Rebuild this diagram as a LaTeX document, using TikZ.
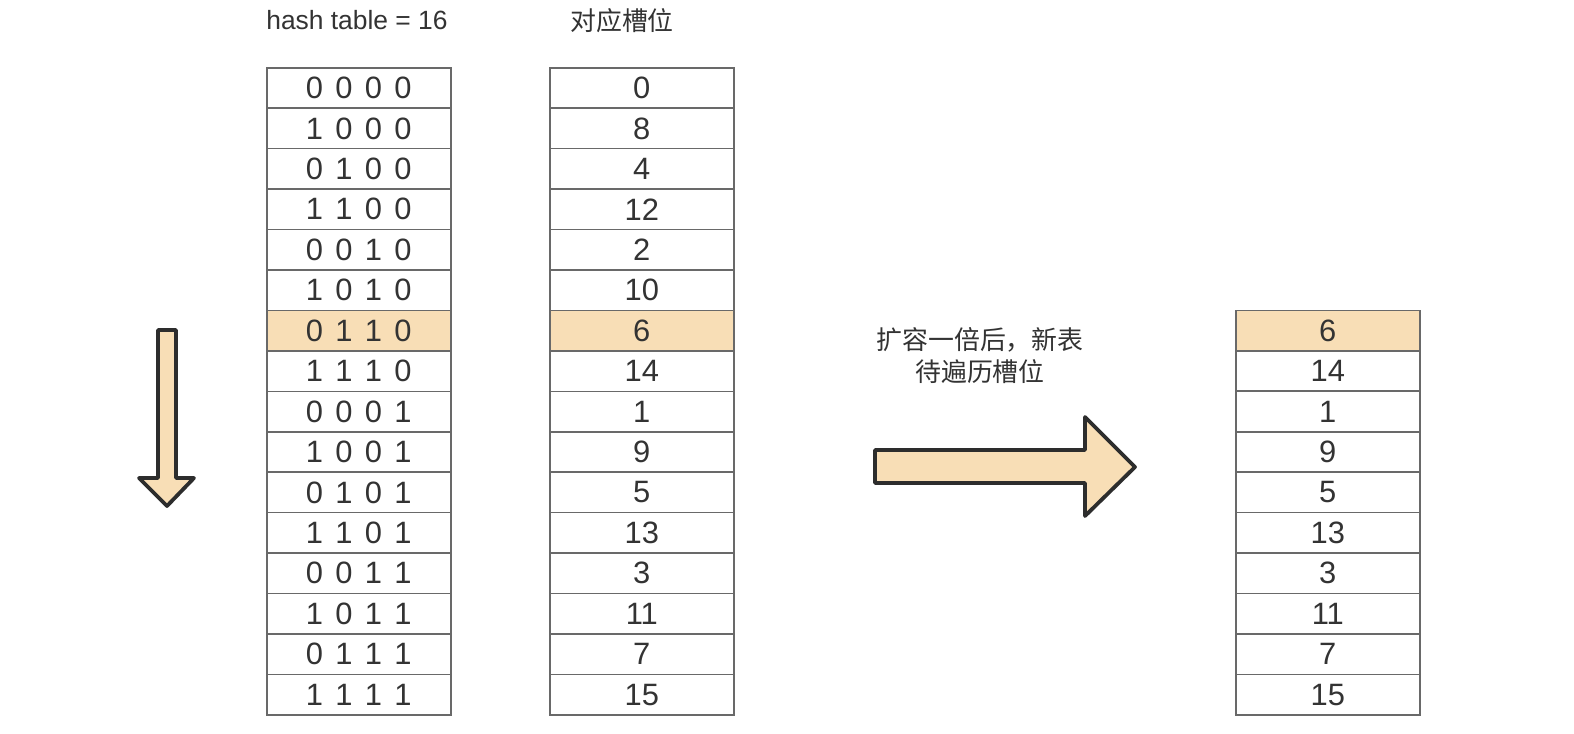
\documentclass[tikz,border=0pt]{standalone}
\usepackage{fontspec}
\setmainfont{Liberation Sans}
\newfontfamily\cjk{Noto Sans CJK SC}
\definecolor{hl}{RGB}{248,222,182}
\definecolor{gridc}{RGB}{105,105,105}
\definecolor{txt}{RGB}{51,51,51}
\definecolor{arr}{RGB}{45,45,45}
\begin{document}
\begin{tikzpicture}[x=1bp,y=-1bp,
  cell/.style={draw=gridc,line width=1.6pt,minimum width=184bp,minimum height=40.44bp,
    inner sep=0pt,anchor=north west,text=txt,
    font={\fontsize{31}{31}\selectfont\spaceskip=12.4pt\relax}},
  header/.style={text=txt,inner sep=0pt},
  bigarrow/.style={draw=arr,fill=hl,line width=3.8pt,line join=round}]
\useasboundingbox[fill=white] (0,0) rectangle (1574,734);
% headers
\node[header,font=\fontsize{26.5}{26.5}\selectfont] (h1) at (357,20) {hash table = 16};
\node[header,font=\fontsize{26}{26}\selectfont\cjk] (h2) at (622,21) {对应槽位};
% left and middle tables
\foreach \a/\b [count=\i] in {0 0 0 0/0,1 0 0 0/8,0 1 0 0/4,1 1 0 0/12,0 0 1 0/2,1 0 1 0/10,0 1 1 0/6,1 1 1 0/14,0 0 0 1/1,1 0 0 1/9,0 1 0 1/5,1 1 0 1/13,0 0 1 1/3,1 0 1 1/11,0 1 1 1/7,1 1 1 1/15}{
  \ifnum\i=7 \def\c{hl}\else\def\c{white}\fi
  \pgfmathsetmacro\yy{67+(\i-1)*40.44}
  \node[cell,fill=\c] (L\i) at (266,\yy) {\a};
  \node[cell,fill=\c] (M\i) at (549,\yy) {\b};
}
% right table
\foreach \b [count=\i] in {6,14,1,9,5,13,3,11,7,15}{
  \ifnum\i=1 \def\c{hl}\else\def\c{white}\fi
  \pgfmathsetmacro\yy{309.6+(\i-1)*40.44}
  \node[cell,fill=\c] (R\i) at (1235,\yy) {\b};
}
% label
\node[header,align=center,font=\fontsize{26}{32}\selectfont\cjk] (lab) at (980,356) {扩容一倍后，新表\\待遍历槽位};
% down arrow
\draw[bigarrow] (158,330) -- (176,330) -- (176,478) -- (194,478) -- (167,506) -- (139,478) -- (158,478) -- cycle;
% right arrow
\draw[bigarrow] (875,450) -- (1085,450) -- (1085,417) -- (1135,467) -- (1085,516) -- (1085,483) -- (875,483) -- cycle;
\end{tikzpicture}
\end{document}
